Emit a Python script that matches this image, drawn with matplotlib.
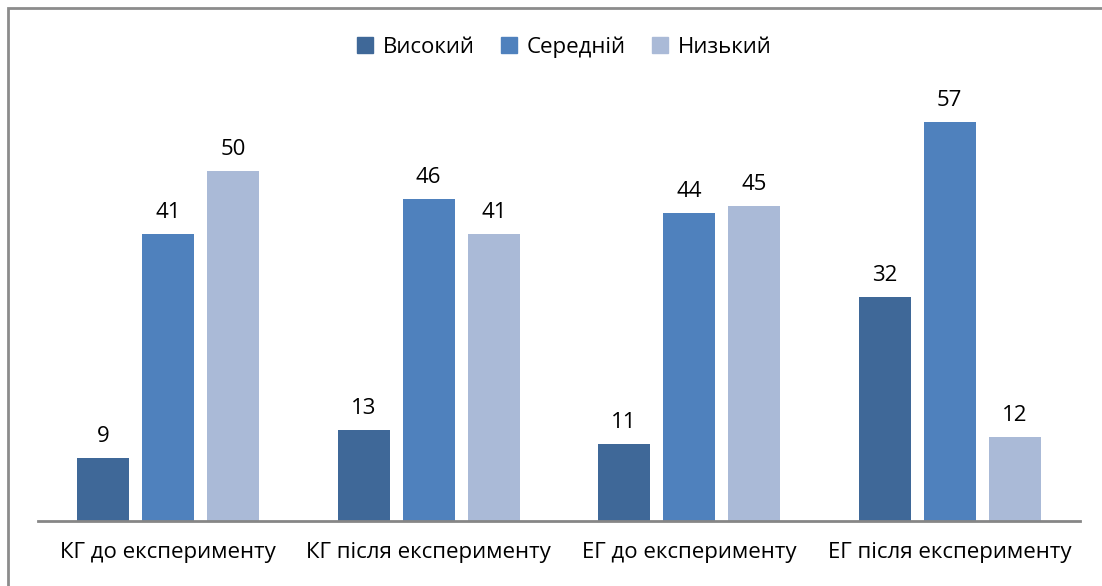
import numpy as np
import matplotlib.pyplot as plt
from matplotlib.patches import Rectangle
from matplotlib.lines import Line2D

categories = ['КГ до експерименту', 'КГ після експерименту', 'ЕГ до експерименту', 'ЕГ після експерименту']
series_names = ['Високий', 'Середній', 'Низький']
high = [9, 13, 11, 32]
mid = [41, 46, 44, 57]
low = [50, 41, 45, 12]
colors = ['#3F6898', '#4F81BD', '#AABAD7']

plt.rcParams['font.family'] = ['Open Sans', 'DejaVu Sans']

fig = plt.figure(figsize=(11.02, 5.86), dpi=100)
W, H = 1102, 586
ax = fig.add_axes([38 / W, 1 - 521 / H, (1080 - 38) / W, (521 - 101) / H])

x = np.arange(len(categories))
offsets = [-0.25, 0, 0.25]
for vals, off, c, name in zip([high, mid, low], offsets, colors, series_names):
    bars = ax.bar(x + off, vals, width=0.2, color=c, label=name)
    for b, v in zip(bars, vals):
        ax.annotate(str(v), (b.get_x() + b.get_width() / 2, v), xytext=(0, 8),
                    textcoords='offset points', ha='center', va='bottom', fontsize=16)

ax.set_xlim(-0.5, 3.5)
ax.set_ylim(0, 60)
ax.set_yticks([])
ax.set_xticks(x)
ax.set_xticklabels(categories, fontsize=16)
ax.tick_params(axis='x', length=0, pad=15)
for s in ['top', 'right', 'left']:
    ax.spines[s].set_visible(False)
ax.spines['bottom'].set_color('#868686')
ax.spines['bottom'].set_linewidth(2)

handles = [Line2D([], [], marker='s', linestyle='', markersize=11, color=c) for c in colors]
fig.legend(handles, series_names, loc='center', bbox_to_anchor=(564 / W, 1 - 47 / H), ncol=3,
           frameon=False, fontsize=16, handlelength=0.8, handletextpad=0.4, columnspacing=1.15)

# outer frame
fig.patches.append(Rectangle((8 / W, -0.1), 1.2, 1.1 - 8 / H, transform=fig.transFigure,
                             fill=False, edgecolor='#8C8C8C', linewidth=2))

fig.savefig('out.png', dpi=100)
